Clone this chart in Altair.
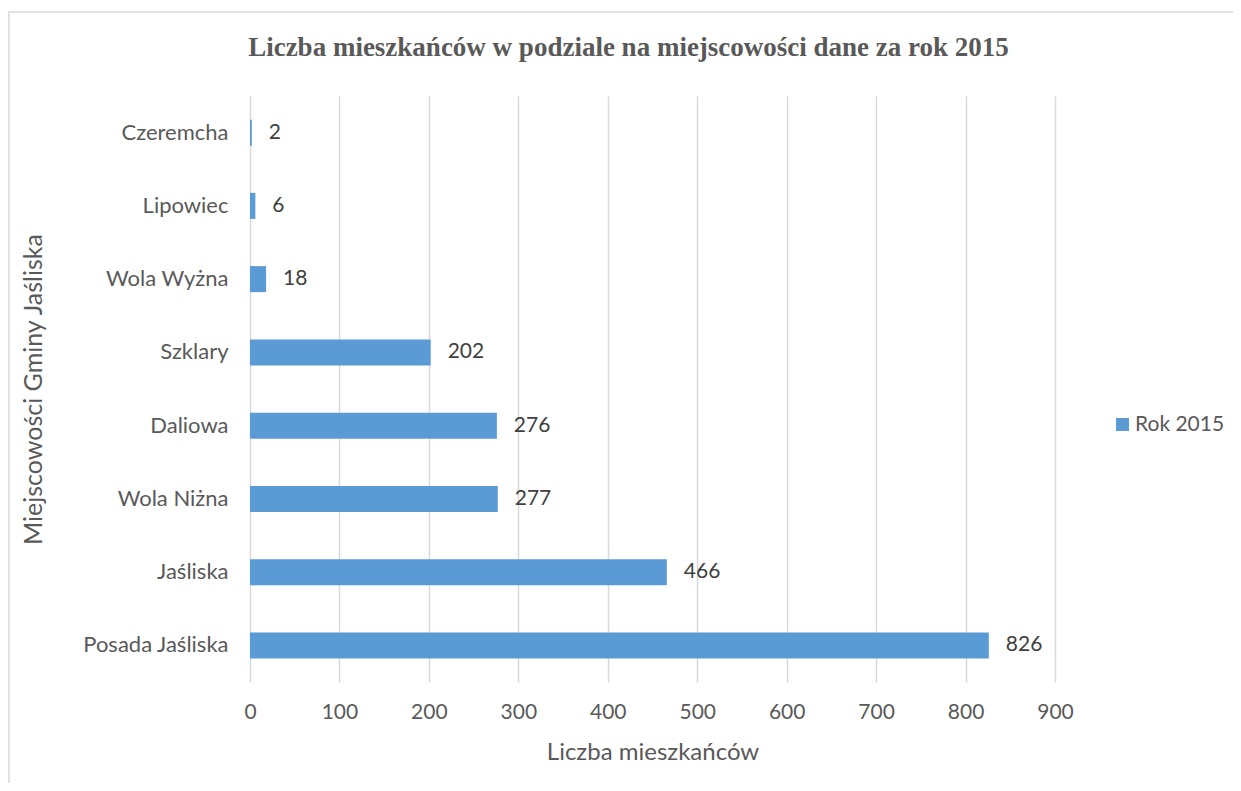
import altair as alt
import pandas as pd

places = ["Czeremcha", "Lipowiec", "Wola Wyżna", "Szklary", "Daliowa", "Wola Niżna", "Jaśliska", "Posada Jaśliska"]
values = [2, 6, 18, 202, 276, 277, 466, 826]
series = ["Rok 2015"] * len(places)
x_ticks = [0, 100, 200, 300, 400, 500, 600, 700, 800, 900]
title_text = "Liczba mieszkańców w podziale na miejscowości dane za rok 2015"

df = pd.DataFrame({"place": places, "value": values, "series": series})

W, H = 805, 586
PL, PT = 242, 88
FONT = "Lato"

one = pd.DataFrame({"a": [0]})

frame = alt.Chart(one).mark_rect(
    fill=None, stroke="#d9d9d9", strokeWidth=1.5
).encode(
    x=alt.value(-PL + 1), x2=alt.value(W + 400),
    y=alt.value(-PT + 4), y2=alt.value(H + 300)
)

title = alt.Chart(one).mark_text(
    font="Liberation Serif", fontSize=27, fontWeight="bold", color="#595959",
    align="center", baseline="middle"
).encode(x=alt.value(W / 2 - 24), y=alt.value(-48), text=alt.value(title_text))

base = alt.Chart(df)

bars = base.mark_bar(size=26, color="#5b9bd5").encode(
    y=alt.Y("place:N", sort=places, title="Miejscowości Gminy Jaśliska",
            scale=alt.Scale(paddingInner=0, paddingOuter=0),
            axis=alt.Axis(labelFont=FONT, labelFontSize=22, labelColor="#595959",
                          labelPadding=22, ticks=False, domain=False, grid=False,
                          titleFont=FONT, titleFontSize=25, titleFontWeight="normal",
                          titleColor="#595959", titleAngle=-90, titleX=-217, titleY=H / 2,
                          titleAlign="center", titleBaseline="middle")),
    x=alt.X("value:Q", title="Liczba mieszkańców",
            scale=alt.Scale(domain=[0, 900], nice=False),
            axis=alt.Axis(values=x_ticks, labelFont=FONT, labelFontSize=21, labelColor="#595959",
                          labelPadding=19, labelFlush=False, ticks=False, domain=False, grid=True,
                          gridColor="#d9d9d9", gridWidth=1.5,
                          titleFont=FONT, titleFontSize=24, titleFontWeight="normal",
                          titleColor="#595959", titleX=W / 2, titleY=70,
                          titleAlign="center", titleBaseline="middle")),
    fill=alt.Fill("series:N", scale=alt.Scale(range=["#5b9bd5"]),
                  legend=alt.Legend(title=None, orient="none", legendX=862, legendY=318,
                                    symbolType="square", symbolSize=170, symbolStrokeWidth=0,
                                    labelFont=FONT, labelFontSize=21, labelColor="#595959",
                                    labelOffset=2)),
)

labels = base.mark_text(align="left", baseline="middle", dx=17, font=FONT, fontSize=21,
                        color="#404040").encode(
    y=alt.Y("place:N", sort=places),
    x=alt.X("value:Q"),
    text=alt.Text("value:Q"),
)

chart = alt.layer(frame, title, bars, labels).properties(
    width=W, height=H,
    autosize=alt.AutoSizeParams(type="none"),
    padding={"left": PL, "top": PT, "right": 1225 - PL - W, "bottom": 775 - PT - H},
).configure(background="white").configure_view(stroke=None)

chart.save("out.html", embed_options={"renderer": "svg", "actions": False})
